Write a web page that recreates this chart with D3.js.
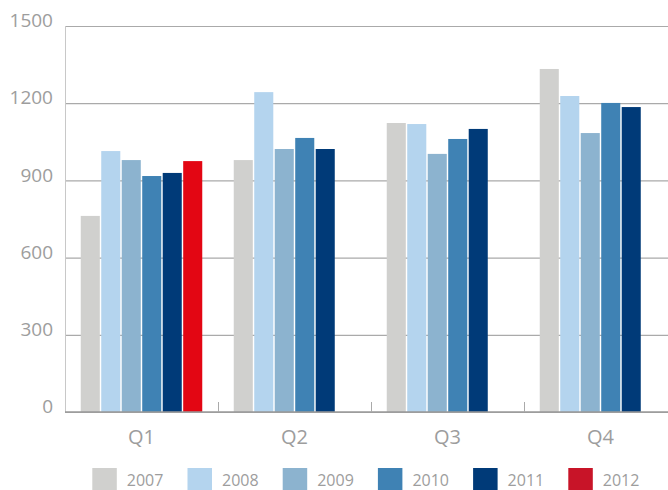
<!DOCTYPE html>
<html>
<head>
<meta charset="utf-8">
<script src="https://cdn.jsdelivr.net/npm/d3@7"></script>
<style>
  body { margin: 0; background: #fff; }
  svg { display: block; }
  svg text { font-family: "Open Sans", sans-serif; }
</style>
</head>
<body>
<svg id="chart" width="668" height="490"></svg>
<script>
const quarters = ['Q1', 'Q2', 'Q3', 'Q4'];
const years = ['2007', '2008', '2009', '2010', '2011', '2012'];
const yTicks = [0, 300, 600, 900, 1200, 1500];

// values per year, one per quarter (null = no data yet)
const v2007 = [762, 979, 1123, 1333];
const v2008 = [1014, 1243, 1119, 1228];
const v2009 = [979, 1022, 1003, 1084];
const v2010 = [917, 1065, 1061, 1201];
const v2011 = [929, 1022, 1100, 1185];
const v2012 = [975, null, null, null];

const barColors = ['#d0d0ce', '#b4d4ee', '#8cb3cf', '#3f82b4', '#003a78', '#e30613'];
const legendColors = ['#d0d0ce', '#b4d4ee', '#8cb3cf', '#3f82b4', '#003a78', '#c81428'];

function buildRows() {
  let series = [v2007, v2008, v2009, v2010, v2011, v2012];
  let rows = [];
  quarters.forEach((q, qi) => {
    years.forEach((yr, yi) => {
      if (series[yi][qi] != null) rows.push({ quarter: q, year: yr, idx: yi, value: series[yi][qi] });
    });
  });
  return rows;
}

function drawChart() {
  let svg = d3.select('#chart');
  let left = 65, right = 677, top = 26, bottom = 412;

  let x0 = d3.scaleBand().domain(quarters).range([left, right]);
  let x1 = d3.scaleBand().domain(years).range([15.75, x0.bandwidth() - 15.75]).paddingInner(0.07);
  let y = d3.scaleLinear().domain([0, 1500]).range([bottom, top]);

  // grid + y labels
  let yAxis = svg.append('g')
    .attr('transform', `translate(${left},0)`)
    .call(d3.axisLeft(y).tickValues(yTicks).tickFormat(d3.format('d')).tickSize(-(668 - left)).tickPadding(12))
    .attr('font-family', null);
  yAxis.select('.domain').remove();
  yAxis.selectAll('line').attr('stroke', '#aaaaaa').attr('stroke-width', 1.2);
  yAxis.selectAll('text')
    .attr('fill', '#9d9d9d')
    .attr('font-size', 19)
    .attr('dy', '0.04em');

  // left axis line
  svg.append('line')
    .attr('x1', left + 0.5).attr('x2', left + 0.5)
    .attr('y1', top).attr('y2', bottom)
    .attr('stroke', '#c8c8c8');

  // bars
  svg.append('g').selectAll('rect')
    .data(buildRows())
    .join('rect')
    .attr('x', d => x0(d.quarter) + x1(d.year))
    .attr('y', d => y(d.value))
    .attr('width', x1.bandwidth())
    .attr('height', d => y(0) - y(d.value))
    .attr('fill', d => barColors[d.idx]);

  // baseline + category labels
  let xAxis = svg.append('g')
    .attr('transform', `translate(0,${bottom})`)
    .call(d3.axisBottom(x0).tickSize(0))
    .attr('font-family', null);
  xAxis.select('.domain').remove();
  xAxis.selectAll('text')
    .attr('fill', '#9d9d9d')
    .attr('font-size', 20)
    .attr('y', 32)
    .attr('dy', 0);

  svg.append('line')
    .attr('x1', left).attr('x2', 668)
    .attr('y1', bottom).attr('y2', bottom)
    .attr('stroke', '#999999').attr('stroke-width', 1.5);

  // separator ticks between quarters
  svg.append('g').selectAll('line')
    .data(quarters.slice(1))
    .join('line')
    .attr('x1', d => x0(d) + 0.5).attr('x2', d => x0(d) + 0.5)
    .attr('y1', bottom).attr('y2', bottom - 10)
    .attr('stroke', '#aaaaaa');

  // legend
  let legendX = d3.scalePoint().domain(years).range([92.3, 568.3]);
  let legend = svg.append('g').selectAll('g')
    .data(years)
    .join('g')
    .attr('transform', d => `translate(${legendX(d)},468)`);
  legend.append('rect')
    .attr('width', 24.5).attr('height', 24)
    .attr('fill', (d, i) => legendColors[i]);
  legend.append('text')
    .attr('x', 34.5).attr('y', 17.5)
    .attr('fill', '#9d9d9d')
    .attr('font-size', 16)
    .text(d => d);
}

window.onload = drawChart;
</script>
</body>
</html>
